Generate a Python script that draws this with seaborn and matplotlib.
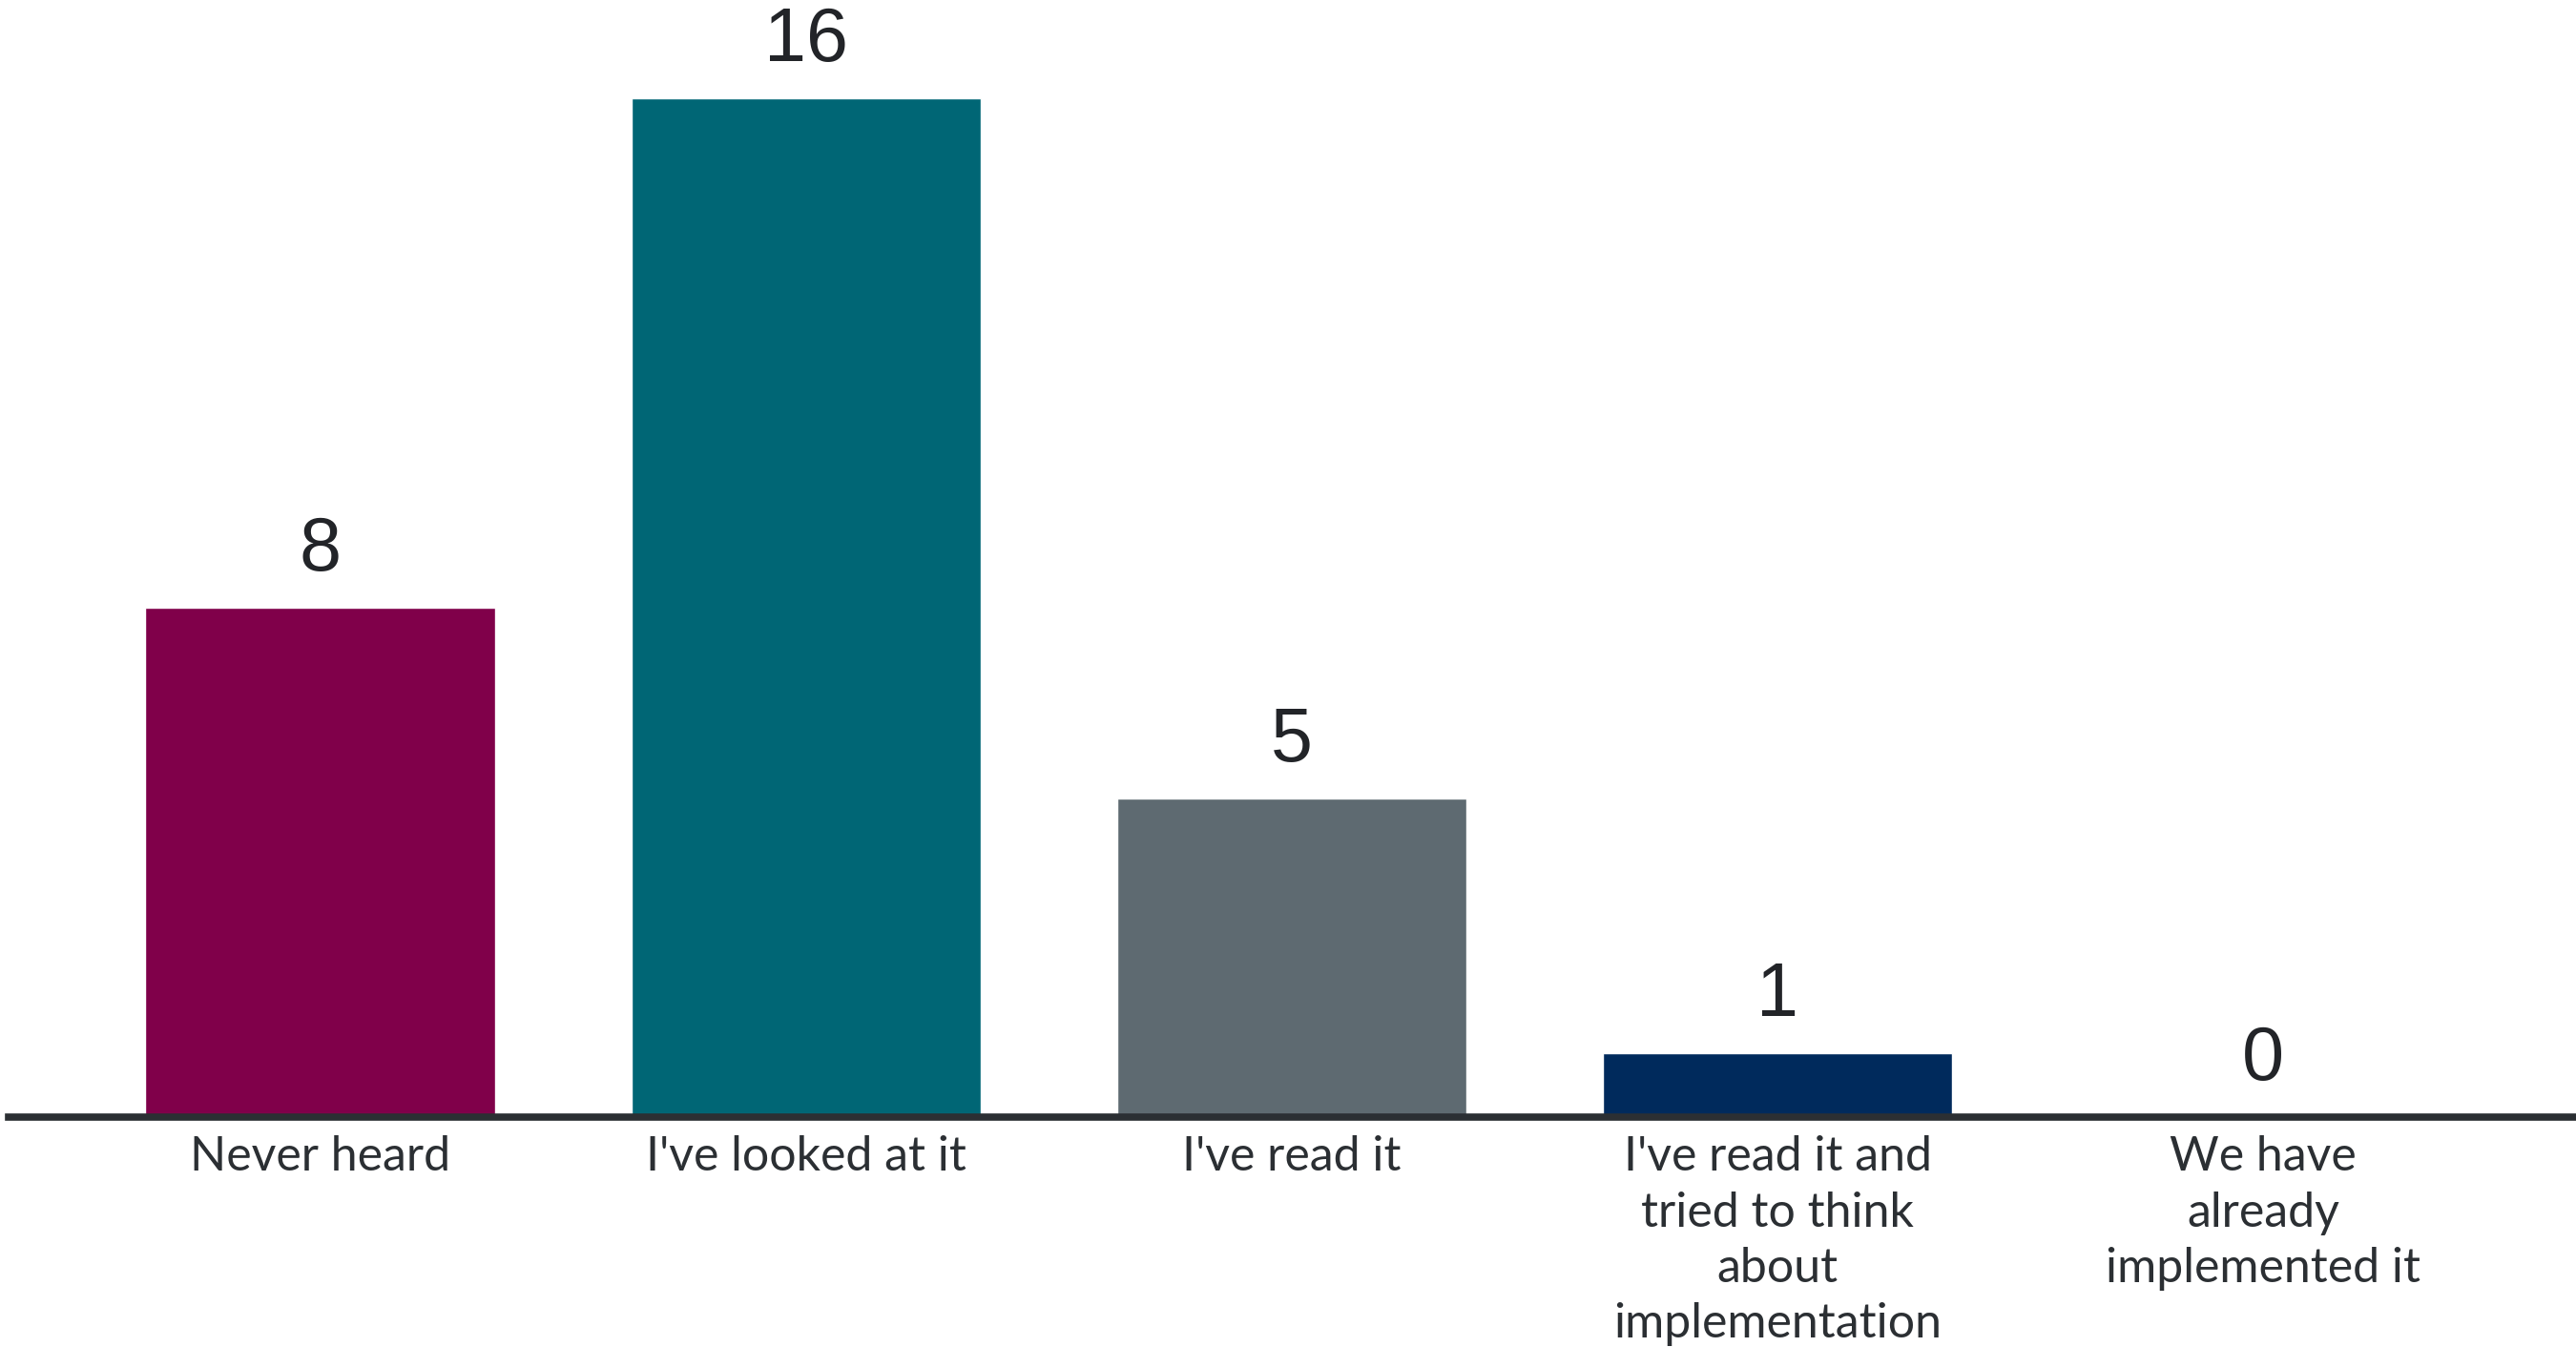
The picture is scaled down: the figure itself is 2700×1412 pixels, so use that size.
import matplotlib
matplotlib.use("Agg")
import matplotlib.pyplot as plt
import seaborn as sns
import pandas as pd

# survey answers and counts
categories = ["Never heard", "I've looked at it", "I've read it",
              "I've read it and\ntried to think\nabout\nimplementation",
              "We have\nalready\nimplemented it"]
counts = [8, 16, 5, 1, 0]
colors = ["#80004a", "#006675", "#5e6a71", "#002a5c", "#3a3a8c"]

df = pd.DataFrame({"answer": categories, "count": counts})

sns.set_style("white")

fig = plt.figure(figsize=(27, 14.12), dpi=100)
ax = fig.add_axes([0.0033, 0.1707, 0.9967, 0.8293])

sns.barplot(data=df, x="answer", y="count", hue="answer",
            palette=colors, legend=False, width=0.72, saturation=1, ax=ax)

# value labels above each bar
for c in ax.containers:
    ax.bar_label(c, padding=16, fontsize=57, color="#222428",
                 family="Liberation Sans")

ax.set_xlim(-0.642, 4.644)
ax.set_ylim(0, 17.55)

for s in ["top", "right", "left"]:
    ax.spines[s].set_visible(False)
ax.spines["bottom"].set_linewidth(5.5)
ax.spines["bottom"].set_color("#2b2f33")
ax.spines["bottom"].set_zorder(5)

ax.set_yticks([])
ax.set_xlabel("")
ax.set_ylabel("")
ax.tick_params(axis="x", length=0, pad=14)
for t in ax.get_xticklabels():
    t.set_fontsize(36)
    t.set_family("Lato")
    t.set_color("#2b2f33")
    t.set_linespacing(1.33)
    t.set_verticalalignment("top")

fig.savefig("out.png", dpi=100, facecolor="white")
